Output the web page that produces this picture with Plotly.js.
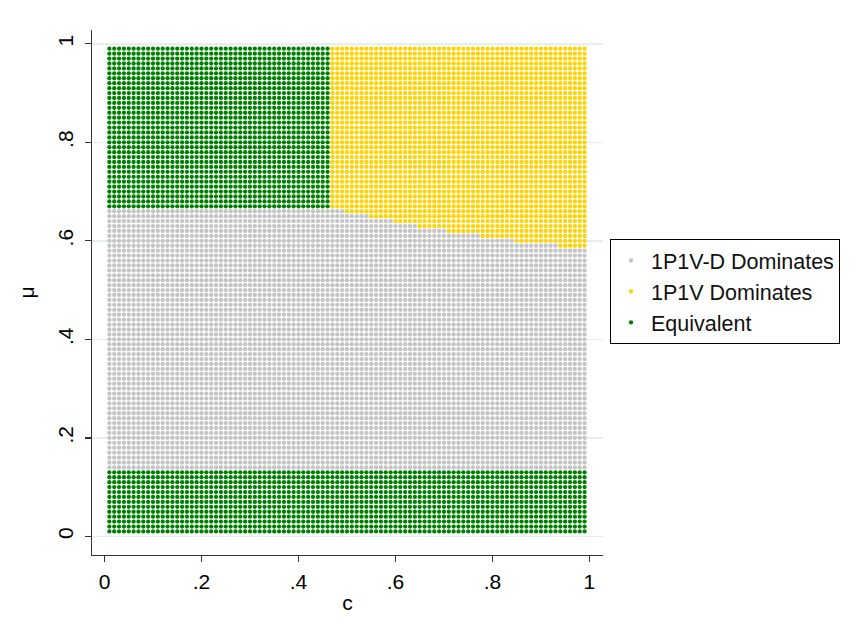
<!DOCTYPE html>
<html>
<head>
<meta charset="utf-8">
<script src="https://cdn.plot.ly/plotly-3.0.1.min.js"></script>
<style>html,body{margin:0;padding:0;background:#fff;}#chart{width:860px;height:632px;}</style>
</head>
<body>
<div id="chart"></div>
<script>
// Parameter grid (c on x, mu on y)
const cGrid = [0.01,0.02,0.03,0.04,0.05,0.06,0.07,0.08,0.09,0.10,0.11,0.12,0.13,0.14,0.15,0.16,0.17,0.18,0.19,0.20,
  0.21,0.22,0.23,0.24,0.25,0.26,0.27,0.28,0.29,0.30,0.31,0.32,0.33,0.34,0.35,0.36,0.37,0.38,0.39,0.40,
  0.41,0.42,0.43,0.44,0.45,0.46,0.47,0.48,0.49,0.50,0.51,0.52,0.53,0.54,0.55,0.56,0.57,0.58,0.59,0.60,
  0.61,0.62,0.63,0.64,0.65,0.66,0.67,0.68,0.69,0.70,0.71,0.72,0.73,0.74,0.75,0.76,0.77,0.78,0.79,0.80,
  0.81,0.82,0.83,0.84,0.85,0.86,0.87,0.88,0.89,0.90,0.91,0.92,0.93,0.94,0.95,0.96,0.97,0.98,0.99];
const muGrid = [0.01,0.02,0.03,0.04,0.05,0.06,0.07,0.08,0.09,0.10,0.11,0.12,0.13,0.14,0.15,0.16,0.17,0.18,0.19,0.20,
  0.21,0.22,0.23,0.24,0.25,0.26,0.27,0.28,0.29,0.30,0.31,0.32,0.33,0.34,0.35,0.36,0.37,0.38,0.39,0.40,
  0.41,0.42,0.43,0.44,0.45,0.46,0.47,0.48,0.49,0.50,0.51,0.52,0.53,0.54,0.55,0.56,0.57,0.58,0.59,0.60,
  0.61,0.62,0.63,0.64,0.65,0.66,0.67,0.68,0.69,0.70,0.71,0.72,0.73,0.74,0.75,0.76,0.77,0.78,0.79,0.80,
  0.81,0.82,0.83,0.84,0.85,0.86,0.87,0.88,0.89,0.90,0.91,0.92,0.93,0.94,0.95,0.96,0.97,0.98,0.99];

// Region boundaries
const equivLowMuMax = 0.13;      // mu <= this: Equivalent
const equivHighMuMin = 0.67;     // mu >= this and c <= equivHighCMax: Equivalent
const equivHighCMax = 0.46;
// For c >= stepCStart[i] (until next), 1P1V-D dominates for mu <= stepGrayMuMax[i], above it 1P1V dominates
const stepCStart   = [0.47, 0.50, 0.55, 0.60, 0.65, 0.71, 0.78, 0.85, 0.94];
const stepGrayMuMax = [0.66, 0.65, 0.64, 0.63, 0.62, 0.61, 0.60, 0.59, 0.58];

const seriesNames = ["1P1V-D Dominates", "1P1V Dominates", "Equivalent"];
const seriesColors = ["#c4c4c4", "#ffd200", "#008000"];

const tickVals = [0, 0.2, 0.4, 0.6, 0.8, 1];
const tickText = ["0", ".2", ".4", ".6", ".8", "1"];

function grayMax(c) {
  let m = null;
  for (let i = 0; i < stepCStart.length; i++) {
    if (c >= stepCStart[i] - 1e-9) m = stepGrayMuMax[i];
  }
  return m;
}

const pts = [{x:[],y:[]},{x:[],y:[]},{x:[],y:[]}];
for (const c of cGrid) {
  for (const mu of muGrid) {
    let k;
    if (mu <= equivLowMuMax + 1e-9) k = 2;
    else if (c <= equivHighCMax + 1e-9) k = (mu >= equivHighMuMin - 1e-9) ? 2 : 0;
    else k = (mu <= grayMax(c) + 1e-9) ? 0 : 1;
    pts[k].x.push(c); pts[k].y.push(mu);
  }
}

const traces = pts.map((p, i) => ({
  type: "scatter", mode: "markers", x: p.x, y: p.y, name: seriesNames[i],
  marker: {color: seriesColors[i], size: 4.3, line: {width: 0}},
  hoverinfo: "skip"
}));

const fam = "Liberation Sans, Arial, sans-serif";
const layout = {
  width: 860, height: 632,
  margin: {l: 92, r: 257, t: 30, b: 77, pad: 0},
  paper_bgcolor: "#fff", plot_bgcolor: "#fff",
  font: {family: fam, size: 21, color: "#000"},
  showlegend: true,
  legend: {
    xref: "container", yref: "container",
    x: 610/860, y: 1 - 239/632, xanchor: "left", yanchor: "top",
    bordercolor: "#000", borderwidth: 1, bgcolor: "#fff",
    font: {family: fam, size: 21.5, color: "#111"},
    itemwidth: 30
  },
  xaxis: {
    range: [-0.0258, 1.028], tickvals: tickVals, ticktext: tickText,
    showgrid: false, zeroline: false, showline: true, linecolor: "#333", linewidth: 1.3,
    ticks: "outside", ticklen: 6, tickcolor: "#333", tickwidth: 1.3,
    tickfont: {size: 21}, ticklabelstandoff: 1,
    title: {text: "c", font: {size: 21}, standoff: 3}
  },
  yaxis: {
    range: [-0.0378, 1.028], tickvals: tickVals, ticktext: tickText,
    showgrid: true, gridcolor: "#e6eef0", gridwidth: 1.5,
    zeroline: false, showline: true, linecolor: "#333", linewidth: 1.3,
    ticks: "outside", ticklen: 6, tickcolor: "#333", tickwidth: 1.3,
    tickangle: -90, tickfont: {size: 21}, ticklabelstandoff: 3,
    title: {text: "μ", font: {size: 21}, standoff: 14}
  }
};

Plotly.newPlot("chart", traces, layout, {staticPlot: true, displayModeBar: false});
</script>
</body>
</html>
